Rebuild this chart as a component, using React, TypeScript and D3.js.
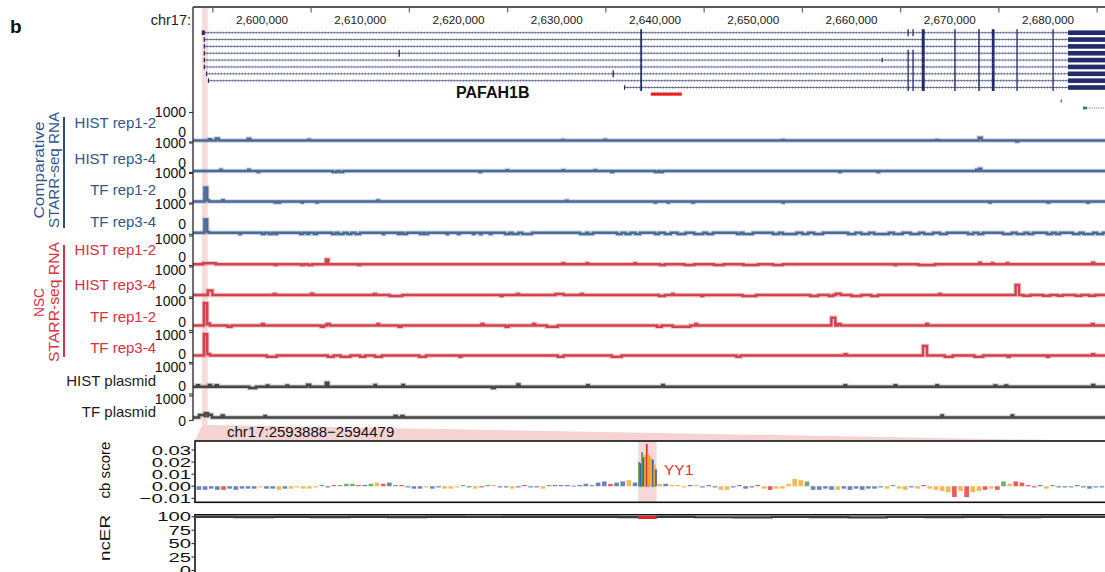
import React from "react";
import * as d3 from "d3";

const FONT = "'Liberation Sans', Arial, Helvetica, sans-serif";

// ---------- genomic window (chr17) ----------
const viewStart = 2592980;
const viewEnd = 2685800;
const labelTicks = [2600000, 2610000, 2620000, 2630000, 2640000, 2650000, 2660000, 2670000, 2680000];
const markTicks = [2595000, 2605000, 2615000, 2625000, 2635000, 2645000, 2655000, 2665000, 2675000, 2685000];
const focusRegion = [2593888, 2594479];

// ---------- PAFAH1B1 transcript models ----------
const txStarts = [2593880, 2594080, 2594080, 2594080, 2594080, 2594080, 2594300, 2594500, 2636850];
const txEnd = 2686500;
const sharedExons = [
  [2638500, 2638680], [2667150, 2667450], [2670460, 2670600], [2672900, 2673050],
  [2674280, 2674560], [2676780, 2676900], [2680450, 2680580],
];
const utrBlock = [2682040, 2686500];
const extraExons = [
  [[2665700, 2665820], [2666200, 2666320]],
  [],
  [],
  [[2613900, 2614000], [2665700, 2665820], [2666200, 2666320]],
  [[2665700, 2665820], [2666200, 2666320]],
  [[2665700, 2665820], [2666200, 2666320]],
  [[2635680, 2635780], [2665700, 2665820], [2666200, 2666320]],
  [[2665700, 2665820], [2666200, 2666320]],
  [[2665700, 2665820], [2666200, 2666320]],
];
const firstExons = [
  [[2593880, 2594180]],
  [[2594080, 2594160]],
  [[2594080, 2594160]],
  [[2594080, 2594160]],
  [[2594080, 2594160], [2663060, 2663140]],
  [[2594080, 2594160]],
  [[2594300, 2594380]],
  [[2594500, 2594580]],
  [[2636850, 2636930]],
];
const elementBar = [2639570, 2642725];
const neighbourExon = [2681280, 2681420];
const neighbourGene = [2683560, 2686000];

// ---------- STARR-seq coverage tracks: [start, end, value] ----------
const trackNames = [
  "HIST rep1-2", "HIST rep3-4", "TF rep1-2", "TF rep3-4",
  "HIST rep1-2", "HIST rep3-4", "TF rep1-2", "TF rep3-4",
  "HIST plasmid", "TF plasmid",
];
const trackGroup = ["cmp", "cmp", "cmp", "cmp", "nsc", "nsc", "nsc", "nsc", "plasmid", "plasmid"];
const trackFloor = [50, 50, 50, 50, 44, 67, 156, 233, 243, 122];

const cmpHist12 = [
  [2594600, 2594800, 90], [2595300, 2595600, 120], [2598550, 2598800, 110], [2604700, 2604850, 75],
  [2630550, 2630700, 70], [2634850, 2635000, 75], [2652950, 2653100, 70], [2668650, 2668800, 70],
  [2672950, 2673250, 140], [2676780, 2676950, 20],
];
const cmpHist34 = [
  [2595750, 2595900, 90], [2598600, 2598750, 90], [2599550, 2599700, 15], [2607200, 2607600, 20],
  [2607900, 2608250, 20], [2622150, 2622300, 20], [2624900, 2625050, 80], [2630600, 2630750, 80],
  [2633850, 2634000, 80], [2635550, 2635750, 15], [2640000, 2640300, 20], [2640500, 2640800, 20],
  [2658780, 2658900, 20], [2662650, 2662800, 20], [2672700, 2672900, 90], [2673000, 2673200, 130],
];
const cmpTf12 = [
  [2594150, 2594420, 520], [2594420, 2594600, 90], [2595950, 2596100, 90], [2601300, 2601450, 15],
  [2601700, 2601850, 15], [2604050, 2604150, 15], [2605550, 2605650, 15], [2611750, 2611900, 85],
  [2630950, 2631100, 80], [2640000, 2640100, 15], [2641300, 2641400, 15], [2643800, 2643950, 15],
  [2653000, 2653100, 20], [2674050, 2674150, 15], [2679950, 2680100, 15], [2684000, 2684150, 15],
];
const cmpTf34 = [
  [2594150, 2594420, 490], [2594420, 2594600, 80], [2597700, 2597850, 10], [2600000, 2600300, 10],
  [2600700, 2601000, 10], [2601300, 2601530, 10], [2603900, 2604200, 10], [2604600, 2604800, 10],
  [2605300, 2605600, 10], [2607130, 2607500, 10], [2607800, 2608300, 10], [2608700, 2609100, 10],
  [2609500, 2609980, 10], [2612300, 2612450, 10], [2613850, 2614100, 10], [2614400, 2614760, 10],
  [2616100, 2616400, 10], [2616600, 2616900, 10], [2618800, 2618950, 10], [2619950, 2620100, 10],
  [2621480, 2621600, 10], [2622200, 2622350, 10], [2623200, 2623350, 10], [2624740, 2625200, 10],
  [2625500, 2626100, 10], [2626500, 2627480, 10], [2632370, 2633000, 10], [2633200, 2633690, 10],
  [2636140, 2636600, 10], [2637000, 2637500, 10], [2638000, 2638480, 10], [2640000, 2640400, 10],
  [2641000, 2641600, 10], [2642300, 2643100, 10], [2644000, 2644900, 10], [2645300, 2645900, 10],
  [2648350, 2648700, 10], [2649000, 2649970, 10], [2652000, 2652600, 10], [2653000, 2654400, 10],
  [2655000, 2655600, 10], [2656200, 2657100, 10], [2659650, 2660400, 10], [2661000, 2661800, 10],
  [2662300, 2663800, 10], [2664300, 2665200, 10], [2666000, 2666900, 10], [2667400, 2668300, 10],
  [2669000, 2669700, 10], [2671860, 2672400, 10], [2672900, 2673390, 10], [2675420, 2676300, 10],
  [2676800, 2677600, 10], [2678000, 2678480, 10], [2679900, 2680400, 10], [2680800, 2681220, 10],
  [2682550, 2683200, 10], [2683600, 2684600, 10], [2685000, 2685600, 10],
];
const nscHist12 = [
  [2594000, 2595300, 75], [2601300, 2601500, 15], [2604000, 2604300, 15], [2604700, 2605100, 15],
  [2606500, 2606750, 205], [2609800, 2610000, 15], [2630600, 2630750, 80], [2633050, 2633200, 80],
  [2637900, 2638050, 80], [2640500, 2641000, 15], [2643000, 2644000, 15], [2646000, 2647000, 15],
  [2649000, 2650500, 15], [2652000, 2653000, 15], [2664400, 2664550, 15], [2666800, 2668500, 15],
  [2673000, 2673150, 95], [2674300, 2674450, 80], [2675800, 2675950, 80], [2684500, 2684700, 95],
];
const nscHist34 = [
  [2594500, 2594950, 215], [2601200, 2601400, 100], [2605000, 2605200, 110], [2611400, 2611600, 100],
  [2613000, 2614300, 35], [2624300, 2624500, 35], [2625950, 2626150, 100], [2629900, 2630700, 100],
  [2632450, 2632650, 100], [2640400, 2641000, 35], [2641750, 2641900, 100], [2644700, 2644900, 35],
  [2648900, 2650300, 35], [2655800, 2656600, 35], [2657700, 2658100, 35], [2658400, 2658900, 110],
  [2660000, 2661000, 35], [2662000, 2662700, 35], [2668900, 2669100, 100], [2676700, 2677050, 400],
  [2677500, 2678200, 40], [2679500, 2680200, 40], [2681000, 2681500, 40], [2682800, 2683400, 40],
  [2684200, 2684800, 40],
];
const nscTf12 = [
  [2594100, 2594420, 850], [2594420, 2594700, 220], [2596500, 2596900, 120], [2600000, 2600200, 200],
  [2606000, 2606300, 120], [2606600, 2606900, 200], [2611750, 2611900, 200], [2613900, 2614200, 120],
  [2622350, 2622550, 200], [2624800, 2625100, 120], [2627600, 2627800, 200], [2629000, 2630100, 120],
  [2640200, 2640700, 120], [2641800, 2643600, 120], [2644100, 2644300, 200], [2657950, 2658350, 400],
  [2658600, 2658900, 200], [2667600, 2667800, 200], [2684450, 2684650, 200],
];
const nscTf34 = [
  [2594100, 2594420, 940], [2594420, 2594700, 280], [2600500, 2601500, 190], [2606700, 2607300, 190],
  [2608000, 2609000, 190], [2610000, 2610500, 190], [2611500, 2612200, 190], [2616000, 2616700, 190],
  [2620100, 2620300, 190], [2630100, 2630700, 190], [2635600, 2636600, 190], [2648300, 2648700, 190],
  [2659300, 2659500, 275], [2667280, 2667680, 550], [2669500, 2670300, 190], [2672500, 2673400, 190],
  [2675900, 2676100, 190], [2679900, 2680100, 190], [2684500, 2684700, 275],
];
const histPlasmid = [
  [2593400, 2593600, 290], [2594600, 2594800, 300], [2595300, 2595500, 290], [2598700, 2599400, 200],
  [2600500, 2600650, 280], [2602500, 2602650, 280], [2604600, 2604900, 310], [2606500, 2606750, 377],
  [2611450, 2611600, 300], [2614300, 2614450, 300], [2623400, 2623700, 200], [2626000, 2626200, 320],
  [2633100, 2633250, 290], [2640750, 2640900, 300], [2659300, 2659450, 290], [2664400, 2664550, 290],
  [2668650, 2668800, 290], [2674550, 2674750, 280], [2675650, 2675850, 280], [2684500, 2684700, 300],
];
const tfPlasmid = [
  [2593600, 2594200, 220], [2594200, 2594500, 294], [2594500, 2594900, 230], [2595900, 2596100, 200],
  [2600250, 2600400, 180], [2613500, 2613700, 180], [2614200, 2614400, 180], [2669150, 2669300, 200],
  [2676300, 2676450, 200],
];
const trackSignals = [
  cmpHist12, cmpHist34, cmpTf12, cmpTf34,
  nscHist12, nscHist34, nscTf12, nscTf34,
  histPlasmid, tfPlasmid,
];

// ---------- zoomed region: contribution scores (4-bp bins) ----------
const cbStart = 2593888;
const cbEnd = 2594480;
const cbBinSize = 4;
const cbBinScores = [
  -0.003, -0.003, -0.002, -0.003, -0.003, -0.002, -0.003, -0.002, -0.002,
  -0.002, -0.001, -0.002, -0.002, -0.003, -0.002, -0.002, -0.001,
  -0.002, -0.002, -0.001,
  0.001, -0.001, 0.001, 0.001, 0.002,
  0.002, 0.001,
  0.001, 0.002, 0.003, 0.002, 0.003, 0.001,
  0.001, -0.001, -0.002, -0.002, -0.001, -0.002, -0.001, -0.002, -0.002, -0.001, 0.001, -0.001, -0.002,
  -0.001, 0.001, 0.001, -0.001, -0.001, -0.002, -0.001, 0.001, -0.001, -0.001, -0.002, 0.001, 0.001,
  0.001, 0.001, 0.0005, 0.001, 0.002, 0.001, 0.003, 0.004, 0.002, 0.003,
  0.004, 0.005, 0.003,
  0, 0, 0,
  0.002, 0.002,
  0.001, 0.001, -0.001, 0.001, 0.001,
  -0.001, 0.001, -0.001,
  -0.003, -0.003,
  -0.001, 0.001, -0.002, -0.001, 0.001,
  -0.002, -0.003, -0.002, -0.002, 0.002,
  0.006, 0.005, 0.004,
  -0.003, -0.003, -0.002, -0.003, -0.003, -0.002, -0.003, -0.002, -0.003, -0.002, -0.002, -0.001,
  -0.002, 0.001, -0.002, -0.003, -0.001, -0.002, 0.001, -0.002,
  -0.003, -0.004, -0.005, -0.009, -0.004, -0.009, -0.005, -0.004, -0.003, -0.002, -0.003,
  0.004, 0.002, 0.004, 0.003, 0.001,
  -0.001, 0.001, -0.002, 0.001, -0.001,
  -0.001, -0.001, 0.001, -0.001, -0.002, -0.001, -0.001,
];
const cbBinBases =
  "CCCCTCCCC" + "CGCCGCGG" + "GGG" + "ACTAA" + "AT" + "CAGTCA" +
  "TCCCGCCGGGACGTAGCCGCTCCGAC" + "CCCCCACCTC" + "CGC" + "AAA" + "GC" + "GGGCG" +
  "CCC" + "GG" + "CCCTC" + "GTGGG" + "GGA" + "CCCCGCCCCCCC" + "GAGGCGTG" +
  "GGGTGTGGTGT" + "AGTTT" + "TCGAC" + "CACCCCC";
const motifStart = 2594176;
const motifScores = [0.020, 0.019, 0.028, 0.024, 0.026, 0.035, 0.027, 0.025, 0.023, 0.022, 0.018, 0.014];
const motifBases = "ACACGTGGGCGC";
const cbTicks = [0.03, 0.02, 0.01, 0.0, -0.01];

// ---------- ncER percentile (25-bp bins) ----------
const ncerBinSize = 25;
const ncerValues = [
  99.6, 99.2, 99.5, 99.1, 99.5, 99.2, 99.6, 99.4, 99.7, 99.5, 99.6, 99.3,
  99.5, 99.0, 98.8, 99.4, 99.1, 98.9, 99.4, 99.3, 99.5, 99.2, 99.6, 99.4,
];
const ncerTicks = [100, 75, 50, 25, 0];

// ---------- layout & styles ----------
const PANEL_L = 193;
const PANEL_R = 1105;
const trackTop = [112.5, 143, 173.5, 204, 236, 267, 298.5, 332.5, 364, 396];
const trackBottom = [142, 172.5, 203, 234.3, 265.5, 297, 330.5, 362.5, 394, 420.5];
const trackLabelY = [122.7, 158.3, 189.3, 221.7, 249.3, 284, 316, 347.3, 380, 411.7];
const groupColor = { cmp: "#4b6a96", nsc: "#d1444f", plasmid: "#474747" };
const groupText = { cmp: "#34568a", nsc: "#d7323d", plasmid: "#1c1c1c" };
const baseColor = { A: "#4a9a3a", C: "#3f62ab", G: "#f2a52a", T: "#e0312f" };
const NAVY = "#222c6a";
const PINK = "#f8dcdc";

export default function App() {
  const x = d3.scaleLinear().domain([viewStart, viewEnd]).range([PANEL_L, PANEL_R]);
  const fmtBp = d3.format(",");
  const rowY = (i: number) => 32.7 + i * 6.85;

  const xs = d3.scaleLinear().domain([cbStart, cbEnd]).range([196, 1105]);
  const yCb = d3.scaleLinear().domain([-0.01, 0.03]).range([498.3, 450]);
  const yNc = d3.scaleLinear().domain([0, 100]).range([570.5, 516.7]);
  const fmtCb = d3.format(".2f");

  const fx0 = x(focusRegion[0]);
  const fx1 = x(focusRegion[1]);

  const signalPath = (k: number) => {
    const floor = trackFloor[k];
    const y = d3.scaleLinear().domain([0, 1000]).range([trackBottom[k], trackTop[k]]);
    const pts: [number, number][] = [[viewStart, floor]];
    [...trackSignals[k]].sort((a, b) => a[0] - b[0]).forEach(([s, e, v]) => {
      pts.push([s, floor], [s, v], [e, v], [e, floor]);
    });
    pts.push([viewEnd, floor]);
    return d3.line<[number, number]>().x((d) => x(d[0])).y((d) => y(d[1]))(pts) || "";
  };

  const ncerPts: [number, number][] = [];
  ncerValues.forEach((v, i) => {
    const s = cbStart + i * ncerBinSize;
    ncerPts.push([s, v], [Math.min(s + ncerBinSize, cbEnd), v]);
  });
  const ncerPath = d3.line<[number, number]>().x((d) => xs(d[0])).y((d) => yNc(d[1]))(ncerPts) || "";

  return (
    <svg
      width={1105}
      height={572}
      style={{ position: "absolute", left: 0, top: 0, display: "block", background: "#fff" }}
      fontFamily={FONT}
    >
      <defs>
        <clipPath id="panelClip">
          <rect x={PANEL_L} y={0} width={PANEL_R - PANEL_L} height={430} />
        </clipPath>
        <clipPath id="lowerClip">
          <rect x={196} y={436} width={PANEL_R - 196} height={140} />
        </clipPath>
      </defs>

      {/* highlighted element and its zoom wedge */}
      <rect x={fx0} y={7} width={fx1 - fx0} height={418} fill={PINK} />
      <polygon points={`${fx0},425 ${fx1},425 ${PANEL_R + 4},441 195,441`} fill="#f5d3d3" />

      {/* panel label */}
      <text x={10} y={33} fontSize={19} fontWeight="bold" fill="#111">b</text>

      {/* coordinate ruler */}
      <text x={191} y={24.5} fontSize={14.5} textAnchor="end" fill="#222">chr17:</text>
      <line x1={PANEL_L} x2={PANEL_R} y1={7} y2={7} stroke="#222" strokeWidth={1.6} />
      {markTicks.map((t) => (
        <line key={t} x1={x(t)} x2={x(t)} y1={7} y2={12.5} stroke="#666" strokeWidth={1.2} />
      ))}
      {labelTicks.map((t) => (
        <text key={t} x={x(t)} y={24} fontSize={11.7} textAnchor="middle" fill="#1a1a1a">{fmtBp(t)}</text>
      ))}

      {/* transcripts */}
      <g clipPath="url(#panelClip)">
        {txStarts.map((s, i) => {
          const y = rowY(i);
          const x0 = x(s);
          const x1 = x(txEnd);
          return (
            <g key={i}>
              <line x1={x0} x2={x1} y1={y} y2={y} stroke={NAVY} strokeWidth={0.9} opacity={0.7} />
              <line x1={x0} x2={x1} y1={y} y2={y} stroke={NAVY} strokeWidth={3} strokeDasharray="0.8 2.2" opacity={0.4} />
              {firstExons[i].map(([a, b], j) => (
                <rect key={"f" + j} x={x(a)} y={y - 2.3} width={Math.max(1.2, x(b) - x(a))} height={4.6} fill={NAVY} />
              ))}
              {sharedExons.concat(extraExons[i]).map(([a, b], j) => (
                <rect key={"e" + j} x={x(a)} y={y - 3.5} width={Math.max(1.3, x(b) - x(a))} height={7} fill={NAVY} />
              ))}
              <rect x={x(utrBlock[0])} y={y - 2.3} width={x(utrBlock[1]) - x(utrBlock[0])} height={4.6} fill={NAVY} />
            </g>
          );
        })}
        <rect x={x(elementBar[0])} y={92.5} width={x(elementBar[1]) - x(elementBar[0])} height={3.2} fill="#e8201c" />
        <rect x={x(neighbourExon[0])} y={99.5} width={x(neighbourExon[1]) - x(neighbourExon[0])} height={3} fill="#2b8a52" />
        <line x1={x(neighbourGene[0])} x2={x(neighbourGene[1])} y1={108} y2={108} stroke="#2b8a52" strokeWidth={1} strokeDasharray="1 1.2" />
        <rect x={x(neighbourGene[0])} y={106.6} width={4} height={2.8} fill="#2b8a52" />
        <rect x={x(neighbourGene[1]) - 2} y={106.6} width={2} height={2.8} fill="#2b8a52" />
      </g>
      <text x={456} y={98} fontSize={16} fontWeight="bold" fill="#111">PAFAH1B</text>

      {/* coverage tracks */}
      <g clipPath="url(#panelClip)">
        {trackNames.map((_, k) => {
          const c = groupColor[trackGroup[k] as keyof typeof groupColor];
          const d = signalPath(k);
          return (
            <g key={k}>
              <path d={d} fill="none" stroke={c} strokeWidth={4.6} opacity={0.28} />
              <path d={d} fill="none" stroke={c} strokeWidth={2.5} />
            </g>
          );
        })}
      </g>

      {/* track axes */}
      <line x1={PANEL_L} x2={PANEL_L} y1={7} y2={421} stroke="#333" strokeWidth={1.4} />
      {trackNames.map((name, k) => {
        const last = k === trackNames.length - 1;
        const grp = trackGroup[k] as keyof typeof groupText;
        const zeroY = last ? trackBottom[k] + 0.5 : trackBottom[k] - (k < 4 ? 10 : 8.5);
        return (
          <g key={k}>
            <line x1={189} x2={PANEL_L} y1={trackTop[k]} y2={trackTop[k]} stroke="#333" strokeWidth={1.1} />
            <line x1={189} x2={PANEL_L} y1={trackBottom[k]} y2={trackBottom[k]} stroke="#333" strokeWidth={1.1} />
            <text x={186} y={trackTop[k] + (k < 4 ? -0.5 : 2.5)} fontSize={14} textAnchor="end" dominantBaseline="central" fill="#111">1000</text>
            <text x={186} y={zeroY} fontSize={14} textAnchor="end" dominantBaseline="central" fill="#111">0</text>
            <text x={156} y={trackLabelY[k]} fontSize={15} textAnchor="end" dominantBaseline="central" fill={groupText[grp]}>{name}</text>
          </g>
        );
      })}

      {/* group brackets */}
      <rect x={63} y={117} width={2} height={111} fill="#2c4f80" />
      <rect x={63} y={245} width={2} height={112} fill="#d7323d" />
      <g transform="translate(38,170) rotate(-90)">
        <text fontSize={15} textAnchor="middle" dominantBaseline="central" fill={groupText.cmp} textLength={97} lengthAdjust="spacingAndGlyphs">Comparative</text>
      </g>
      <g transform="translate(53,170) rotate(-90)">
        <text fontSize={15} textAnchor="middle" dominantBaseline="central" fill={groupText.cmp} textLength={116} lengthAdjust="spacingAndGlyphs">STARR-seq RNA</text>
      </g>
      <g transform="translate(38,302.5) rotate(-90)">
        <text fontSize={15} textAnchor="middle" dominantBaseline="central" fill={groupText.nsc} textLength={29} lengthAdjust="spacingAndGlyphs">NSC</text>
      </g>
      <g transform="translate(53,302) rotate(-90)">
        <text fontSize={15} textAnchor="middle" dominantBaseline="central" fill={groupText.nsc} textLength={120} lengthAdjust="spacingAndGlyphs">STARR-seq RNA</text>
      </g>

      {/* zoom region title */}
      <text x={227} y={431.5} fontSize={15} dominantBaseline="central" fill="#111">
        {`chr17:${focusRegion[0]}\u2212${focusRegion[1]}`}
      </text>

      {/* contribution score panel */}
      <rect x={xs(motifStart)} y={441} width={xs(motifStart + motifScores.length) - xs(motifStart)} height={61.3} fill="#f7d8d8" />
      <g clipPath="url(#lowerClip)">
        {cbBinScores.map((v, i) => {
          const s = cbStart + i * cbBinSize;
          const b = cbBinBases[i] as keyof typeof baseColor;
          const y0 = yCb(0);
          const y1 = yCb(v);
          return (
            <rect key={i} x={xs(s) + 0.6} width={xs(s + cbBinSize) - xs(s) - 1.5}
              y={Math.min(y0, y1)} height={Math.max(0.9, Math.abs(y1 - y0))}
              fill={baseColor[b]} opacity={0.78} />
          );
        })}
        {motifScores.map((v, i) => {
          const s = motifStart + i;
          const b = motifBases[i] as keyof typeof baseColor;
          return (
            <rect key={"m" + i} x={xs(s)} width={xs(s + 1) - xs(s) + 0.2}
              y={yCb(v)} height={yCb(0) - yCb(v)} fill={baseColor[b]} />
          );
        })}
      </g>
      <text x={664} y={469} fontSize={15.5} dominantBaseline="central" fill="#e53030">YY1</text>
      <rect x={195} y={441} width={PANEL_R - 195 + 10} height={61.3} fill="none" stroke="#111" strokeWidth={1.6} />
      {cbTicks.map((t) => (
        <g key={t}>
          <line x1={191.5} x2={195} y1={yCb(t)} y2={yCb(t)} stroke="#333" strokeWidth={1.1} />
          <g transform={`translate(191,${yCb(t)}) scale(1.5,1)`}>
            <text fontSize={13.5} textAnchor="end" dominantBaseline="central" fill="#111">{fmtCb(t)}</text>
          </g>
        </g>
      ))}
      <g transform="translate(105,470) rotate(-90)">
        <text fontSize={14} textAnchor="middle" dominantBaseline="central" fill="#111" textLength={57} lengthAdjust="spacingAndGlyphs">cb score</text>
      </g>

      {/* ncER panel */}
      <line x1={195} x2={PANEL_R} y1={514.8} y2={514.8} stroke="#111" strokeWidth={1.6} />
      <line x1={195} x2={195} y1={514} y2={572} stroke="#111" strokeWidth={1.6} />
      <g clipPath="url(#lowerClip)">
        <path d={ncerPath} fill="none" stroke="#3a3a3a" strokeWidth={2.2} />
      </g>
      <rect x={xs(motifStart)} y={516} width={xs(motifStart + motifScores.length) - xs(motifStart)} height={3} fill="#e8201c" />
      {ncerTicks.map((t) => (
        <g key={t}>
          <line x1={191.5} x2={195} y1={yNc(t)} y2={yNc(t)} stroke="#333" strokeWidth={1.1} />
          <g transform={`translate(191,${yNc(t)}) scale(1.5,1)`}>
            <text fontSize={13.5} textAnchor="end" dominantBaseline="central" fill="#111">{t}</text>
          </g>
        </g>
      ))}
      <g transform="translate(105,538) rotate(-90)">
        <text fontSize={14} textAnchor="middle" dominantBaseline="central" fill="#111" textLength={46} lengthAdjust="spacingAndGlyphs">ncER</text>
      </g>
    </svg>
  );
}
